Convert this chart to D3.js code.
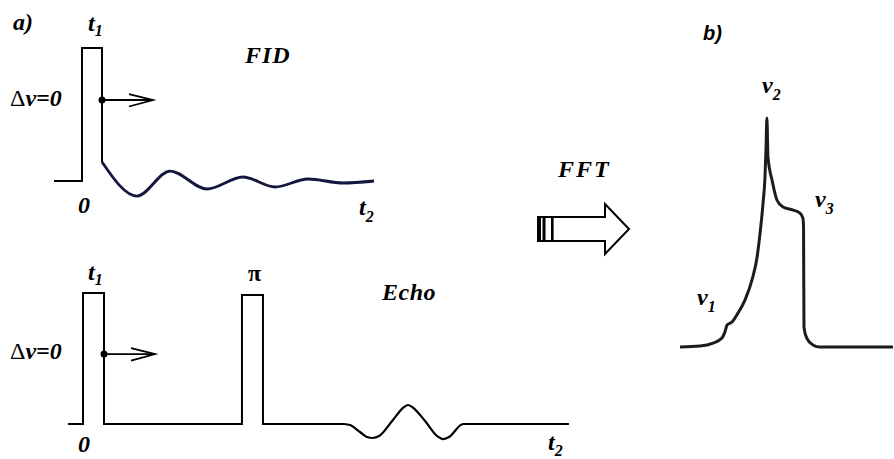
<!DOCTYPE html>
<html>
<head>
<meta charset="utf-8">
<script src="https://cdn.jsdelivr.net/npm/d3@7"></script>
<style>
  html, body { margin: 0; padding: 0; background: #fff; }
  svg { display: block; }
</style>
</head>
<body>
<svg id="fig" width="894" height="459"></svg>
<script>
// ---- (a) upper trace: pulse of length t1, then free induction decay ----
const fidLead = [[-1.4, 0], [0, 0], [0, 1], [1, 1], [1, 0.143]];
const fidTime = [1, 2.75, 4.4, 6.25, 8.05, 9.65, 11.3, 13.05, 14.6];
const fidAmp = [0.143, -0.113, 0.075, -0.06, 0.03, -0.045, 0.015, -0.015, 0];
const fidVector = { t: 1, amp: 0.609, tip: 3.55 };

// ---- (a) lower trace: pulse, pi pulse, then the echo ----
const echoPulses = [[-0.71, 0], [0, 0], [0, 1], [1, 1], [1, 0],
                    [7.57, 0], [7.57, 0.985], [8.57, 0.985], [8.57, 0], [12.43, 0]];
const echoTime = [12.43, 12.71, 13.19, 13.52, 13.81, 14.1, 14.76, 15.29, 15.48,
                  15.67, 16.29, 16.86, 17.14, 17.43, 18.1, 23.14];
const echoAmp = [0, -0.008, -0.061, -0.099, -0.107, -0.092, 0.031, 0.13, 0.145,
                 0.13, 0.023, -0.092, -0.115, -0.099, 0, 0];
const echoVector = { t: 1, amp: 0.534, tip: 3.43 };

// ---- (b) spectrum after Fourier transform ----
const specFreq = [0, 9.4, 15.5, 19.7, 21.1, 22.1, 24.4, 27.2, 30.5, 33.8, 36.2, 37.6,
                  39.0, 39.9, 40.4, 40.8, 41.3, 43.2, 45.5, 48.4, 53.1, 56.3, 57.7,
                  58.0, 58.2, 59.5, 62.4, 65.7, 100];
const specInt = [0, 0.004, 0.017, 0.039, 0.066, 0.096, 0.109, 0.148, 0.205, 0.293, 0.393, 0.498,
                 0.629, 0.742, 0.873, 1, 0.83, 0.729, 0.642, 0.611, 0.598, 0.585, 0.563,
                 0.524, 0.087, 0.039, 0.009, 0, 0];

const serif = "'Liberation Serif', 'Times New Roman', serif";
const sans = "'Liberation Sans', Arial, sans-serif";

const svg = d3.select("#fig");
svg.append("rect").attr("width", 894).attr("height", 459).attr("fill", "#fff");

const defs = svg.append("defs");
defs.append("filter").attr("id", "soft")
  .append("feGaussianBlur").attr("stdDeviation", 0.55);

// scales
const xFid = d3.scaleLinear().domain([0, 1]).range([82, 102]);
const yFid = d3.scaleLinear().domain([0, 1]).range([181, 48]);
const xEcho = d3.scaleLinear().domain([0, 1]).range([83, 104]);
const yEcho = d3.scaleLinear().domain([0, 1]).range([424, 293]);
const xSpec = d3.scaleLinear().domain([0, 100]).range([680, 893]);
const ySpec = d3.scaleLinear().domain([0, 1]).range([347, 118]);

// text helper: main glyphs with an optional lowered subscript
function label(x, y, main, sub, o = {}) {
  const t = svg.append("text")
    .attr("x", x).attr("y", y)
    .attr("font-family", o.family || serif)
    .attr("font-size", o.size || 24)
    .attr("font-weight", o.weight || "bold")
    .attr("font-style", o.style || "italic")
    .attr("letter-spacing", o.spacing || 0)
    .attr("fill", "#000");
  t.append("tspan").text(main);
  if (sub) t.append("tspan").attr("dy", o.subDy || 6).attr("font-size", o.subSize || 16).text(sub);
  return t;
}

function deltaLabel(x, y) {
  const t = svg.append("text").attr("x", x).attr("y", y)
    .attr("font-family", serif).attr("font-size", 24).attr("fill", "#000");
  t.append("tspan").text("\u0394");
  t.append("tspan").attr("font-weight", "bold").attr("font-style", "italic").text("v=0");
}

function vector(xs, ys, v) {
  const x0 = xs(v.t), y0 = ys(v.amp), x1 = xs(v.tip);
  svg.append("line").attr("x1", x0).attr("y1", y0).attr("x2", x1).attr("y2", y0)
    .attr("stroke", "#000").attr("stroke-width", 1.8);
  svg.append("path")
    .attr("d", `M${x1 - 24},${y0 - 6} L${x1},${y0} L${x1 - 24},${y0 + 6.5}`)
    .attr("fill", "none").attr("stroke", "#000").attr("stroke-width", 1.8);
  svg.append("circle").attr("cx", x0).attr("cy", y0).attr("r", 3.5).attr("fill", "#000");
}

const linear = d3.line().x(d => d[0]).y(d => d[1]);

// ---- upper trace ----
svg.append("path")
  .attr("d", linear(fidLead.map(d => [xFid(d[0]), yFid(d[1])])))
  .attr("fill", "none").attr("stroke", "#000").attr("stroke-width", 2);

svg.append("path")
  .attr("d", d3.line().curve(d3.curveMonotoneX)
    .x((d, i) => xFid(fidTime[i])).y((d, i) => yFid(fidAmp[i]))(fidTime))
  .attr("fill", "none").attr("stroke", "#13163f").attr("stroke-width", 2.8)
  .attr("stroke-linejoin", "round");

vector(xFid, yFid, fidVector);

label(13, 30, "a)");
label(88, 31, "t", "1", { subDy: 5 });
label(245, 63, "FID", null, { spacing: 1 });
deltaLabel(10, 106);
label(78, 213, "0");
label(359, 215, "t", "2", { subDy: 7 });

// ---- lower trace ----
svg.append("path")
  .attr("d", linear(echoPulses.map(d => [xEcho(d[0]), yEcho(d[1])])))
  .attr("fill", "none").attr("stroke", "#000").attr("stroke-width", 2);

svg.append("path")
  .attr("d", d3.line().curve(d3.curveMonotoneX)
    .x((d, i) => xEcho(echoTime[i])).y((d, i) => yEcho(echoAmp[i]))(echoTime))
  .attr("fill", "none").attr("stroke", "#000").attr("stroke-width", 2.2)
  .attr("stroke-linejoin", "round");

vector(xEcho, yEcho, echoVector);

label(88, 280, "t", "1", { subDy: 5 });
label(248, 281, "\u03c0", null, { style: "normal" });
label(382, 300, "Echo", null, { spacing: 0.5 });
deltaLabel(10, 359);
label(78, 452, "0");
label(548, 450, "t", "2", { subDy: 6 });

// ---- FFT block arrow ----
label(558, 177, "FFT", null, { spacing: 2 });
const ax0 = 538, ax1 = 605, axTip = 629, ayTop = 217, ayBot = 241, ayMid = 229;
svg.append("path")
  .attr("d", `M${ax0},${ayTop} L${ax1},${ayTop} L${ax1},${ayMid - 25} L${axTip},${ayMid}
              L${ax1},${ayMid + 25} L${ax1},${ayBot} L${ax0},${ayBot} Z`)
  .attr("fill", "#fff").attr("stroke", "#000").attr("stroke-width", 2);
[[538, 3], [542.5, 3], [551, 2.6]].forEach(([x, w]) => {
  svg.append("rect").attr("x", x).attr("y", ayTop).attr("width", w).attr("height", ayBot - ayTop)
    .attr("fill", "#000");
});

// ---- (b) spectrum ----
svg.append("path")
  .attr("d", d3.line().curve(d3.curveMonotoneX)
    .x((d, i) => xSpec(specFreq[i])).y((d, i) => ySpec(specInt[i]))(specFreq))
  .attr("fill", "none").attr("stroke", "#1c1c1c").attr("stroke-width", 3)
  .attr("stroke-linejoin", "round").attr("filter", "url(#soft)");

label(703, 40, "b)", null, { family: sans, size: 20 });
label(762, 93, "v", "2", { subDy: 7 });
label(815, 207, "v", "3", { subDy: 7 });
label(697, 305, "v", "1", { subDy: 7 });
</script>
</body>
</html>
